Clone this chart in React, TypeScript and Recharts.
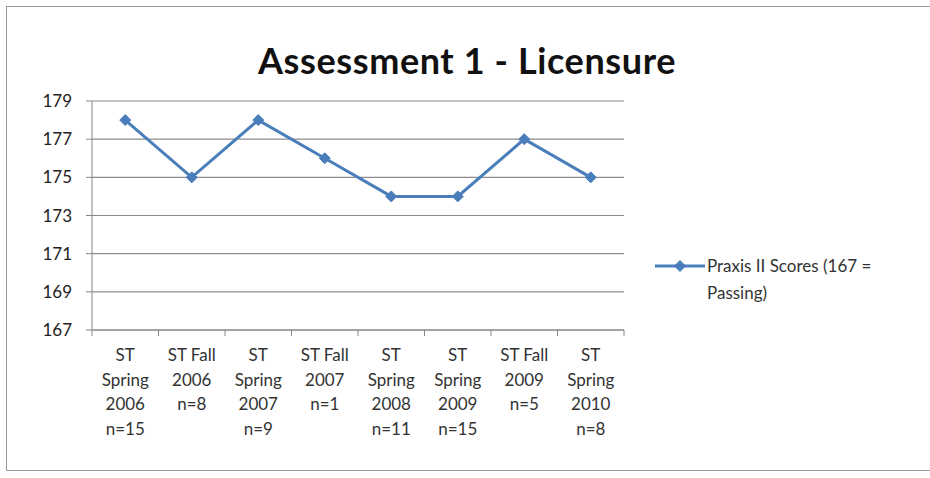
import { CartesianGrid, Line, LineChart, XAxis, YAxis } from "recharts";

const categories = [
  "ST Spring 2006 n=15",
  "ST Fall 2006 n=8",
  "ST Spring 2007 n=9",
  "ST Fall 2007 n=1",
  "ST Spring 2008 n=11",
  "ST Spring 2009 n=15",
  "ST Fall 2009 n=5",
  "ST Spring 2010 n=8",
];
const categoryLines = [
  ["ST", "Spring", "2006", "n=15"],
  ["ST Fall", "2006", "n=8"],
  ["ST", "Spring", "2007", "n=9"],
  ["ST Fall", "2007", "n=1"],
  ["ST", "Spring", "2008", "n=11"],
  ["ST", "Spring", "2009", "n=15"],
  ["ST Fall", "2009", "n=5"],
  ["ST", "Spring", "2010", "n=8"],
];
const scores = [178, 175, 178, 176, 174, 174, 177, 175];
const yTicks = [167, 169, 171, 173, 175, 177, 179];

const SERIES = "Praxis II Scores (167 = Passing)";
const BLUE = "#4a7ebb";
const FONT = "Lato, 'Open Sans', sans-serif";
const BAND = 66.5;

const data = categories.map((c, i) => ({ cat: c, v: scores[i] }));

function Diamond(props: any) {
  const { cx, cy } = props;
  if (cx == null || cy == null) return null;
  const r = 5.5;
  return (
    <path
      d={`M${cx},${cy - r} L${cx + r},${cy} L${cx},${cy + r} L${cx - r},${cy} Z`}
      fill={BLUE}
      stroke={BLUE}
    />
  );
}

function CatTick(props: any) {
  const { x, y, payload, index } = props;
  const lines = categoryLines[index] ?? [payload.value];
  const half = BAND / 2;
  return (
    <g>
      {index === 0 && (
        <line x1={x - half} x2={x - half} y1={y - 8} y2={y - 2} stroke="#868686" />
      )}
      <line x1={x + half} x2={x + half} y1={y - 8} y2={y - 2} stroke="#868686" />
      <text
        x={x}
        y={y + 23}
        textAnchor="middle"
        fontSize={17}
        fontFamily={FONT}
        fill="#333"
      >
        {lines.map((l: string, i: number) => (
          <tspan key={i} x={x} dy={i === 0 ? 0 : 24.5}>
            {l}
          </tspan>
        ))}
      </text>
    </g>
  );
}

function LegendBox() {
  return (
    <svg width={290} height={60}>
      <line x1={2} x2={52} y1={16} y2={16} stroke={BLUE} strokeWidth={3} />
      <Diamond cx={27} cy={16} />
      <text x={54} y={22} fontSize={17} fontFamily={FONT} fill="#333">
        Praxis II Scores (167 =
      </text>
      <text x={54} y={49} fontSize={17} fontFamily={FONT} fill="#333">
        Passing)
      </text>
    </svg>
  );
}

export default function App() {
  return (
    <div
      style={{
        position: "fixed",
        left: 0,
        top: 0,
        width: 930,
        height: 478,
        background: "#fff",
      }}
    >
      <div
        style={{
          position: "absolute",
          left: 6,
          top: 6,
          width: 926,
          height: 465,
          border: "1.5px solid #9a9a9a",
          boxSizing: "border-box",
        }}
      />
      <div
        style={{
          position: "absolute",
          left: 0,
          top: 38,
          width: 934,
          textAlign: "center",
          fontFamily: FONT,
          fontWeight: 700,
          fontSize: 36,
          letterSpacing: 0.6,
          color: "#111",
        }}
      >
        Assessment 1 - Licensure
      </div>
      <div style={{ position: "absolute", left: 0, top: 0 }}>
        <LineChart
          width={930}
          height={478}
          data={data}
          margin={{ top: 101, right: 306, bottom: 28, left: 42 }}
        >
          <CartesianGrid vertical={false} stroke="#8c8c8c" strokeWidth={1.2} />
          <XAxis
            dataKey="cat"
            interval={0}
            tick={<CatTick />}
            tickLine={false}
            axisLine={{ stroke: "#868686" }}
            padding={{ left: BAND / 2, right: BAND / 2 }}
            height={120}
          />
          <YAxis
            domain={[167, 179]}
            ticks={yTicks}
            width={50}
            tickLine={{ stroke: "#868686" }}
            tickSize={6}
            tickMargin={14}
            axisLine={{ stroke: "#868686" }}
            tick={{ fontSize: 17, fontFamily: FONT, fill: "#222" }}
            interval={0}
          />
          <Line
            dataKey="v"
            name={SERIES}
            stroke={BLUE}
            strokeWidth={3}
            dot={<Diamond />}
            activeDot={false}
            isAnimationActive={false}
          />
        </LineChart>
      </div>
      <div style={{ position: "absolute", left: 653, top: 250 }}>
        <LegendBox />
      </div>
    </div>
  );
}
